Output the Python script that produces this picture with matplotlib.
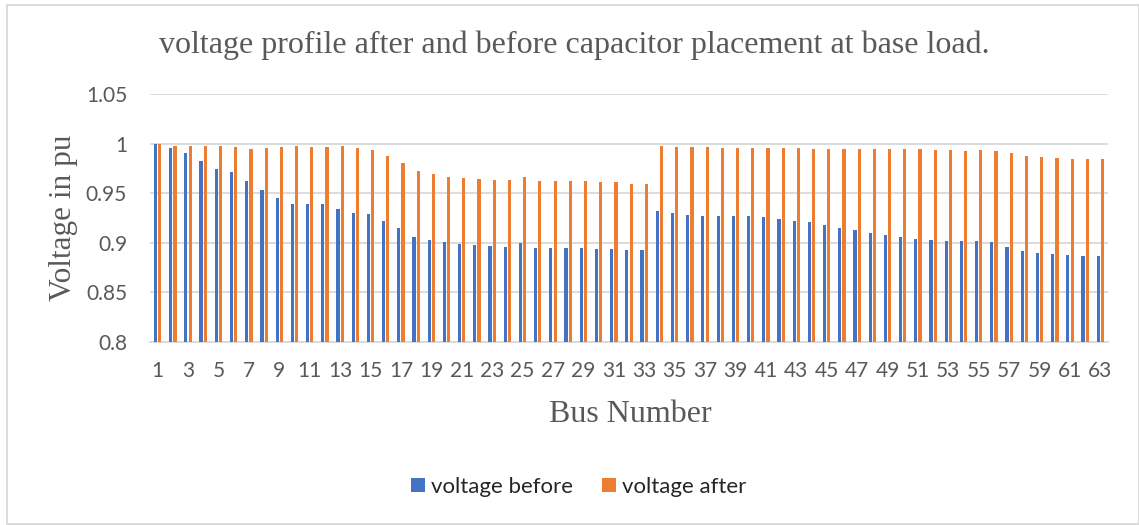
import matplotlib
matplotlib.use("Agg")
import matplotlib.pyplot as plt
import numpy as np
from matplotlib.patches import Rectangle

bus = list(range(1, 64))
voltage_before = [
    1.000, 0.9956, 0.990, 0.9825, 0.9748, 0.9708, 0.9617, 0.9536, 0.9452, 0.9392,
    0.9389, 0.9386, 0.9338, 0.9300, 0.9287, 0.9223, 0.9149, 0.9061, 0.9024, 0.9003,
    0.8990, 0.8977, 0.8966, 0.8956, 0.8997, 0.8950, 0.8946, 0.8946, 0.8943, 0.8940,
    0.8936, 0.8926, 0.8926, 0.9317, 0.9294, 0.9277, 0.9270, 0.9267, 0.9267, 0.9267,
    0.9257, 0.9243, 0.9223, 0.9206, 0.9173, 0.9146, 0.9132, 0.9098, 0.9075, 0.9058,
    0.9038, 0.9024, 0.9021, 0.9021, 0.9021, 0.9007, 0.8960, 0.8916, 0.8899, 0.8886,
    0.8876, 0.8869, 0.8866,
]
voltage_after = [
    1.000, 0.998, 0.9977, 0.9977, 0.998, 0.9966, 0.9943, 0.9953, 0.9963, 0.9973,
    0.9966, 0.9963, 0.998, 0.995, 0.9933, 0.9872, 0.9802, 0.9721, 0.9688, 0.9667,
    0.9654, 0.9644, 0.9637, 0.963, 0.9664, 0.962, 0.962, 0.9617, 0.9617, 0.9613,
    0.961, 0.9596, 0.9596, 0.9973, 0.997, 0.9963, 0.9963, 0.9956, 0.9953, 0.9953,
    0.9956, 0.9956, 0.995, 0.9946, 0.9943, 0.9943, 0.9943, 0.9943, 0.9943, 0.9943,
    0.9943, 0.9933, 0.993, 0.9926, 0.993, 0.9923, 0.9903, 0.9879, 0.9862, 0.9852,
    0.9849, 0.9845, 0.9842,
]
yticks = [0.8, 0.85, 0.9, 0.95, 1.0, 1.05]
ytick_labels = ["0.8", "0.85", "0.9", "0.95", "1", "1.05"]

W, H = 1139, 525
fig = plt.figure(figsize=(W / 100, H / 100), dpi=100)
ax = fig.add_axes([150 / W, 1 - 341.7 / H, (1108 - 150) / W, (341.7 - 94) / H])

x = np.array(bus)
bw = 0.21
ax.bar(x - 0.14, voltage_before, width=bw, color="#4472C4", label="voltage before", zorder=3)
ax.bar(x + 0.14, voltage_after, width=bw, color="#ED7D31", label="voltage after", zorder=3)

ax.set_xlim(0.5, 63.5)
ax.set_ylim(0.8, 1.05)
ax.set_yticks(yticks)
ax.set_yticklabels(ytick_labels)
ax.set_xticks(x[::2])
ax.set_xticklabels([str(b) for b in bus[::2]])
ax.grid(axis="y", color="#D9D9D9", linewidth=1.3, zorder=0)
for s in ["top", "right", "left"]:
    ax.spines[s].set_visible(False)
ax.spines["bottom"].set_color("#D9D9D9")
ax.spines["bottom"].set_linewidth(1.3)
ax.tick_params(axis="both", length=0, colors="#595959", labelsize=15)
ax.tick_params(axis="x", pad=14)
ax.tick_params(axis="y", pad=16.5)
for lab in ax.get_xticklabels() + ax.get_yticklabels():
    lab.set_fontfamily("Lato")

fig.text(574 / W, 1 - 45 / H, "voltage profile after and before capacitor placement at base load.",
         ha="center", va="center", fontsize=23, family="Liberation Serif", color="#595959")
fig.text(63 / W, 1 - 218 / H, "Voltage in pu", rotation=90, ha="center", va="center",
         fontsize=22.5, family="Liberation Serif", color="#595959")
fig.text(630 / W, 1 - 415 / H, "Bus Number", ha="center", va="center",
         fontsize=23, family="Liberation Serif", color="#595959")

leg = fig.legend(loc="center", bbox_to_anchor=(579 / W, 1 - 487 / H), ncol=2, frameon=False,
                 prop={"family": "Lato", "size": 16}, handlelength=0.6, handleheight=0.6,
                 handletextpad=0.3, columnspacing=1.3)
for t in leg.get_texts():
    t.set_color("#262626")

fig.patches.append(Rectangle((7 / W, 1 / H), (W - 7.5) / W, (520 - 1) / H, transform=fig.transFigure,
                             fill=False, edgecolor="#D9D9D9", linewidth=1.3))

fig.savefig("out.png", dpi=100)
